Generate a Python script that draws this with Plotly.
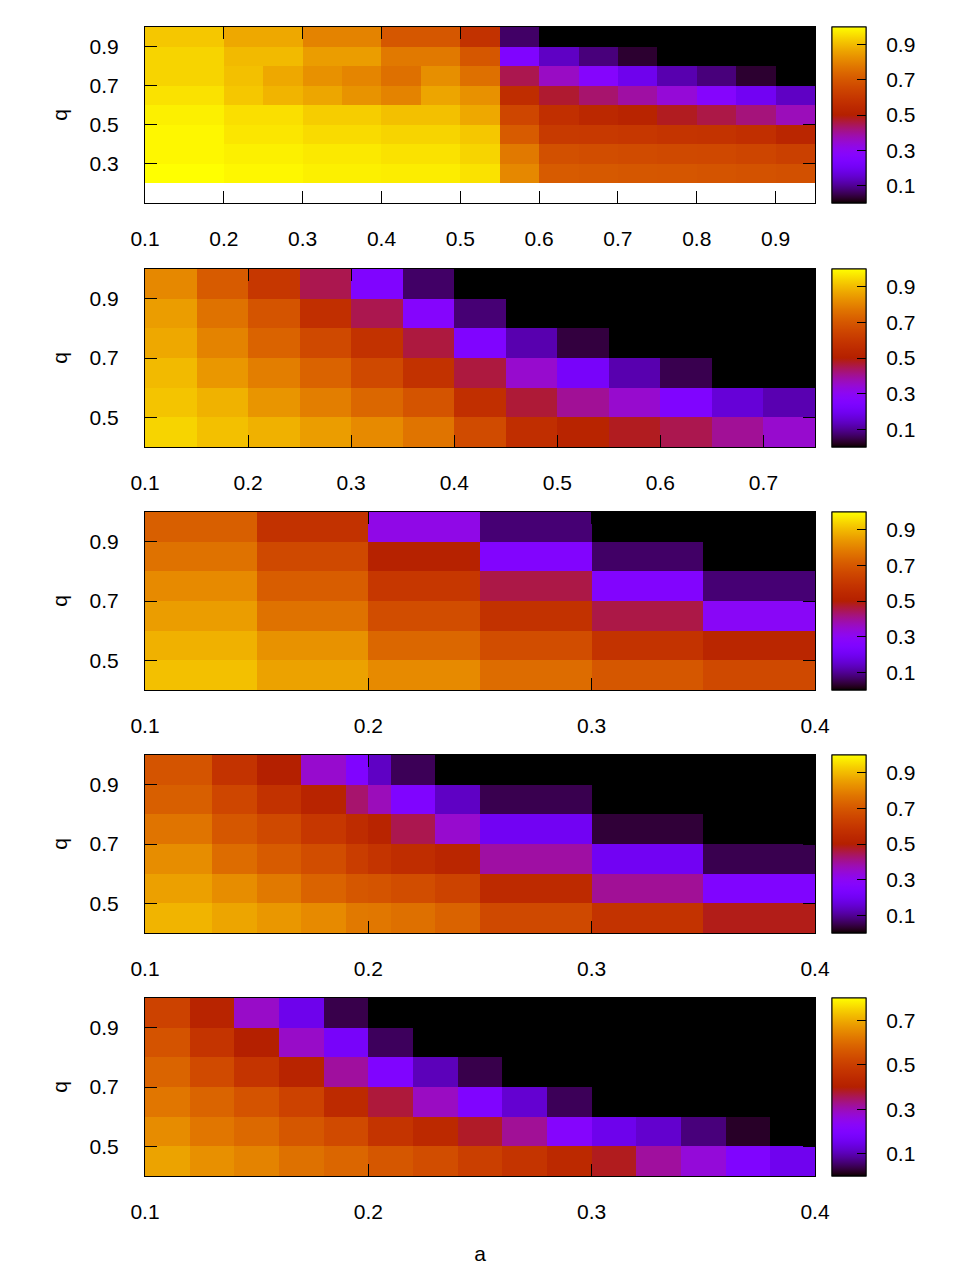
import math
import plotly.graph_objects as go

# ---- data: cell edges (a, q) and values, rows listed from low q to high q ----
a1 = [0.10, 0.15, 0.20, 0.25, 0.30, 0.35, 0.40, 0.45, 0.50, 0.55, 0.60,
      0.65, 0.70, 0.75, 0.80, 0.85, 0.90, 0.95]
q1 = [0.2, 0.3, 0.4, 0.5, 0.6, 0.7, 0.8, 0.9, 1.0]
z1 = [
    [1.00, 1.00, 0.99, 0.99, 0.98, 0.98, 0.975, 0.975, 0.96, 0.81, 0.71, 0.705, 0.70, 0.695, 0.69, 0.685, 0.68],
    [0.99, 0.99, 0.98, 0.98, 0.97, 0.97, 0.96, 0.96, 0.94, 0.78, 0.68, 0.67, 0.665, 0.66, 0.655, 0.645, 0.63],
    [0.99, 0.99, 0.965, 0.965, 0.95, 0.95, 0.94, 0.94, 0.92, 0.71, 0.61, 0.605, 0.60, 0.59, 0.585, 0.57, 0.53],
    [0.98, 0.98, 0.955, 0.955, 0.93, 0.93, 0.91, 0.91, 0.87, 0.65, 0.57, 0.54, 0.52, 0.48, 0.455, 0.42, 0.37],
    [0.96, 0.96, 0.92, 0.89, 0.867, 0.832, 0.80, 0.865, 0.827, 0.56, 0.47, 0.43, 0.39, 0.34, 0.27, 0.20, 0.14],
    [0.94, 0.94, 0.91, 0.87, 0.827, 0.804, 0.76, 0.823, 0.76, 0.45, 0.36, 0.27, 0.19, 0.12, 0.08, 0.03, 0.0],
    [0.94, 0.94, 0.90, 0.90, 0.85, 0.85, 0.78, 0.78, 0.70, 0.25, 0.14, 0.08, 0.03, 0.0, 0.0, 0.0, 0.0],
    [0.92, 0.92, 0.87, 0.87, 0.80, 0.80, 0.70, 0.70, 0.58, 0.065, 0.0, 0.0, 0.0, 0.0, 0.0, 0.0, 0.0],
]

a2 = [0.10, 0.15, 0.20, 0.25, 0.30, 0.35, 0.40, 0.45, 0.50, 0.55, 0.60, 0.65, 0.70, 0.75]
q2 = [0.4, 0.5, 0.6, 0.7, 0.8, 0.9, 1.0]
z2 = [
    [0.94, 0.91, 0.885, 0.85, 0.815, 0.77, 0.665, 0.567, 0.52, 0.48, 0.45, 0.40, 0.35],
    [0.915, 0.887, 0.835, 0.79, 0.74, 0.69, 0.57, 0.465, 0.40, 0.35, 0.25, 0.16, 0.122],
    [0.90, 0.84, 0.79, 0.73, 0.66, 0.58, 0.46, 0.35, 0.22, 0.12, 0.05, 0.0, 0.0],
    [0.87, 0.80, 0.73, 0.66, 0.58, 0.46, 0.25, 0.12, 0.04, 0.0, 0.0, 0.0, 0.0],
    [0.85, 0.765, 0.69, 0.57, 0.45, 0.27, 0.075, 0.0, 0.0, 0.0, 0.0, 0.0, 0.0],
    [0.81, 0.71, 0.60, 0.45, 0.25, 0.065, 0.0, 0.0, 0.0, 0.0, 0.0, 0.0, 0.0],
]

a3 = [0.10, 0.15, 0.20, 0.25, 0.30, 0.35, 0.40]
q3 = [0.4, 0.5, 0.6, 0.7, 0.8, 0.9, 1.0]
z3 = [
    [0.91, 0.86, 0.815, 0.75, 0.70, 0.66],
    [0.885, 0.83, 0.74, 0.67, 0.585, 0.53],
    [0.85, 0.765, 0.67, 0.58, 0.455, 0.29],
    [0.815, 0.715, 0.60, 0.455, 0.26, 0.075],
    [0.765, 0.66, 0.51, 0.26, 0.065, 0.0],
    [0.72, 0.58, 0.32, 0.075, 0.0, 0.0],
]

a4 = [0.10, 0.13, 0.15, 0.17, 0.19, 0.20, 0.21, 0.23, 0.25, 0.30, 0.35, 0.40]
q4 = [0.4, 0.5, 0.6, 0.7, 0.8, 0.9, 1.0]
z4 = [
    [0.89, 0.865, 0.84, 0.815, 0.78, 0.775, 0.76, 0.73, 0.66, 0.585, 0.485],
    [0.855, 0.82, 0.78, 0.73, 0.70, 0.69, 0.67, 0.64, 0.55, 0.40, 0.25],
    [0.82, 0.75, 0.71, 0.67, 0.62, 0.59, 0.56, 0.53, 0.39, 0.20, 0.05],
    [0.77, 0.70, 0.66, 0.60, 0.555, 0.52, 0.45, 0.35, 0.20, 0.035, 0.0],
    [0.72, 0.65, 0.58, 0.52, 0.43, 0.37, 0.25, 0.14, 0.05, 0.0, 0.0],
    [0.69, 0.585, 0.50, 0.35, 0.25, 0.14, 0.055, 0.0, 0.0, 0.0, 0.0],
]

a5 = [0.10, 0.12, 0.14, 0.16, 0.18, 0.20, 0.22, 0.24, 0.26, 0.28, 0.30,
      0.32, 0.34, 0.36, 0.38, 0.40]
q5 = [0.4, 0.5, 0.6, 0.7, 0.8, 0.9, 1.0]
z5 = [
    [0.69, 0.66, 0.64, 0.61, 0.59, 0.56, 0.535, 0.50, 0.47, 0.435, 0.385, 0.315, 0.27, 0.20, 0.155],
    [0.655, 0.62, 0.595, 0.56, 0.53, 0.47, 0.435, 0.38, 0.32, 0.215, 0.15, 0.12, 0.064, 0.02, 0.0],
    [0.62, 0.585, 0.55, 0.51, 0.44, 0.37, 0.29, 0.20, 0.123, 0.045, 0.0, 0.0, 0.0, 0.0, 0.0],
    [0.585, 0.53, 0.47, 0.415, 0.315, 0.20, 0.104, 0.038, 0.0, 0.0, 0.0, 0.0, 0.0, 0.0, 0.0],
    [0.55, 0.47, 0.40, 0.285, 0.177, 0.047, 0.0, 0.0, 0.0, 0.0, 0.0, 0.0, 0.0, 0.0, 0.0],
    [0.51, 0.415, 0.285, 0.15, 0.038, 0.0, 0.0, 0.0, 0.0, 0.0, 0.0, 0.0, 0.0, 0.0, 0.0],
]

xticks = [
    [0.1, 0.2, 0.3, 0.4, 0.5, 0.6, 0.7, 0.8, 0.9],
    [0.1, 0.2, 0.3, 0.4, 0.5, 0.6, 0.7],
    [0.1, 0.2, 0.3, 0.4],
    [0.1, 0.2, 0.3, 0.4],
    [0.1, 0.2, 0.3, 0.4],
]
yticks_1 = [0.3, 0.5, 0.7, 0.9]
yticks = [0.5, 0.7, 0.9]
cbticks = [0.1, 0.3, 0.5, 0.7, 0.9]
cbticks_5 = [0.1, 0.3, 0.5, 0.7]


# gnuplot default palette (rgbformulae 7,5,15)
def pm3d(t):
    r = math.sqrt(t)
    g = t ** 3
    b = max(0.0, math.sin(2 * math.pi * t))
    return "rgb(%d,%d,%d)" % (round(255 * r), round(255 * g), round(255 * b))


n = 100
cscale = [[i / n, pm3d(i / n)] for i in range(n + 1)]

# page body has an 8px margin, so the figure is laid out 8px up/left
OFF = 8
W, H = 944, 1264
FONT = dict(family="Liberation Sans, Arial, sans-serif", size=21, color="black")


def px(xp):
    return (xp - OFF) / W


def py(yp):
    return 1 - (yp - OFF) / H


panels = [
    (a1, q1, z1, [0.1, 0.95], [0.1, 1.0], yticks_1, 1.0, cbticks, (27, 203)),
    (a2, q2, z2, [0.1, 0.75], [0.4, 1.0], yticks, 1.0, cbticks, (269, 447)),
    (a3, q3, z3, [0.1, 0.4], [0.4, 1.0], yticks, 1.0, cbticks, (512, 690)),
    (a4, q4, z4, [0.1, 0.4], [0.4, 1.0], yticks, 1.0, cbticks, (755, 933)),
    (a5, q5, z5, [0.1, 0.4], [0.4, 1.0], yticks, 0.8, cbticks_5, (998, 1176)),
]

fig = go.Figure()
layout = {}
for i, (ax, qy, zz, xr, yr, yt, zmax, cbt, (top, bot)) in enumerate(panels):
    k = "" if i == 0 else str(i + 1)
    ydom = [py(bot), py(top)]
    cb = dict(
        x=px(832), xanchor="left", xpad=0,
        y=(ydom[0] + ydom[1]) / 2, yanchor="middle", ypad=0,
        len=(bot - top) / H, lenmode="fraction", thickness=34,
        outlinewidth=1, outlinecolor="black",
        tickmode="array", tickvals=cbt, tickfont=FONT,
    )
    # labelled colorbar (label offset via transparent outside ticks)
    fig.add_trace(go.Heatmap(
        x=ax, y=qy, z=zz, zmin=0, zmax=zmax, colorscale=cscale,
        xaxis="x" + k, yaxis="y" + k, hoverinfo="skip",
        colorbar=dict(cb, ticks="outside", ticklen=16,
                      tickcolor="rgba(0,0,0,0)"),
    ))
    # same cells again, its colorbar only adds the inner tick marks
    fig.add_trace(go.Heatmap(
        x=ax, y=qy, z=zz, zmin=0, zmax=zmax, colorscale=cscale,
        xaxis="x" + k, yaxis="y" + k, hoverinfo="skip",
        colorbar=dict(cb, ticks="inside", ticklen=9, tickcolor="black",
                      showticklabels=False),
    ))
    layout["xaxis" + k] = dict(
        domain=[px(145), px(815)], range=xr, anchor="y" + k,
        tickmode="array", tickvals=xticks[i], ticks="inside", ticklen=12,
        tickcolor="black", showline=True, linecolor="black", linewidth=1,
        mirror="ticks", showgrid=False, zeroline=False, tickfont=FONT,
        ticklabelstandoff=17, automargin=False,
    )
    layout["yaxis" + k] = dict(
        domain=ydom, range=yr, anchor="x" + k,
        tickmode="array", tickvals=yt, ticks="inside", ticklen=12,
        tickcolor="black", showline=True, linecolor="black", linewidth=1,
        mirror="ticks", showgrid=False, zeroline=False, tickfont=FONT,
        ticklabelstandoff=21, automargin=False,
        title=dict(text="q", font=FONT, standoff=16),
    )

layout["xaxis5"]["title"] = dict(text="a", font=FONT, standoff=24)

fig.update_layout(
    width=W, height=H, margin=dict(l=0, r=0, t=0, b=0, autoexpand=False),
    paper_bgcolor="white", plot_bgcolor="white", font=FONT,
    showlegend=False, **layout,
)

fig.write_html("out.html")
